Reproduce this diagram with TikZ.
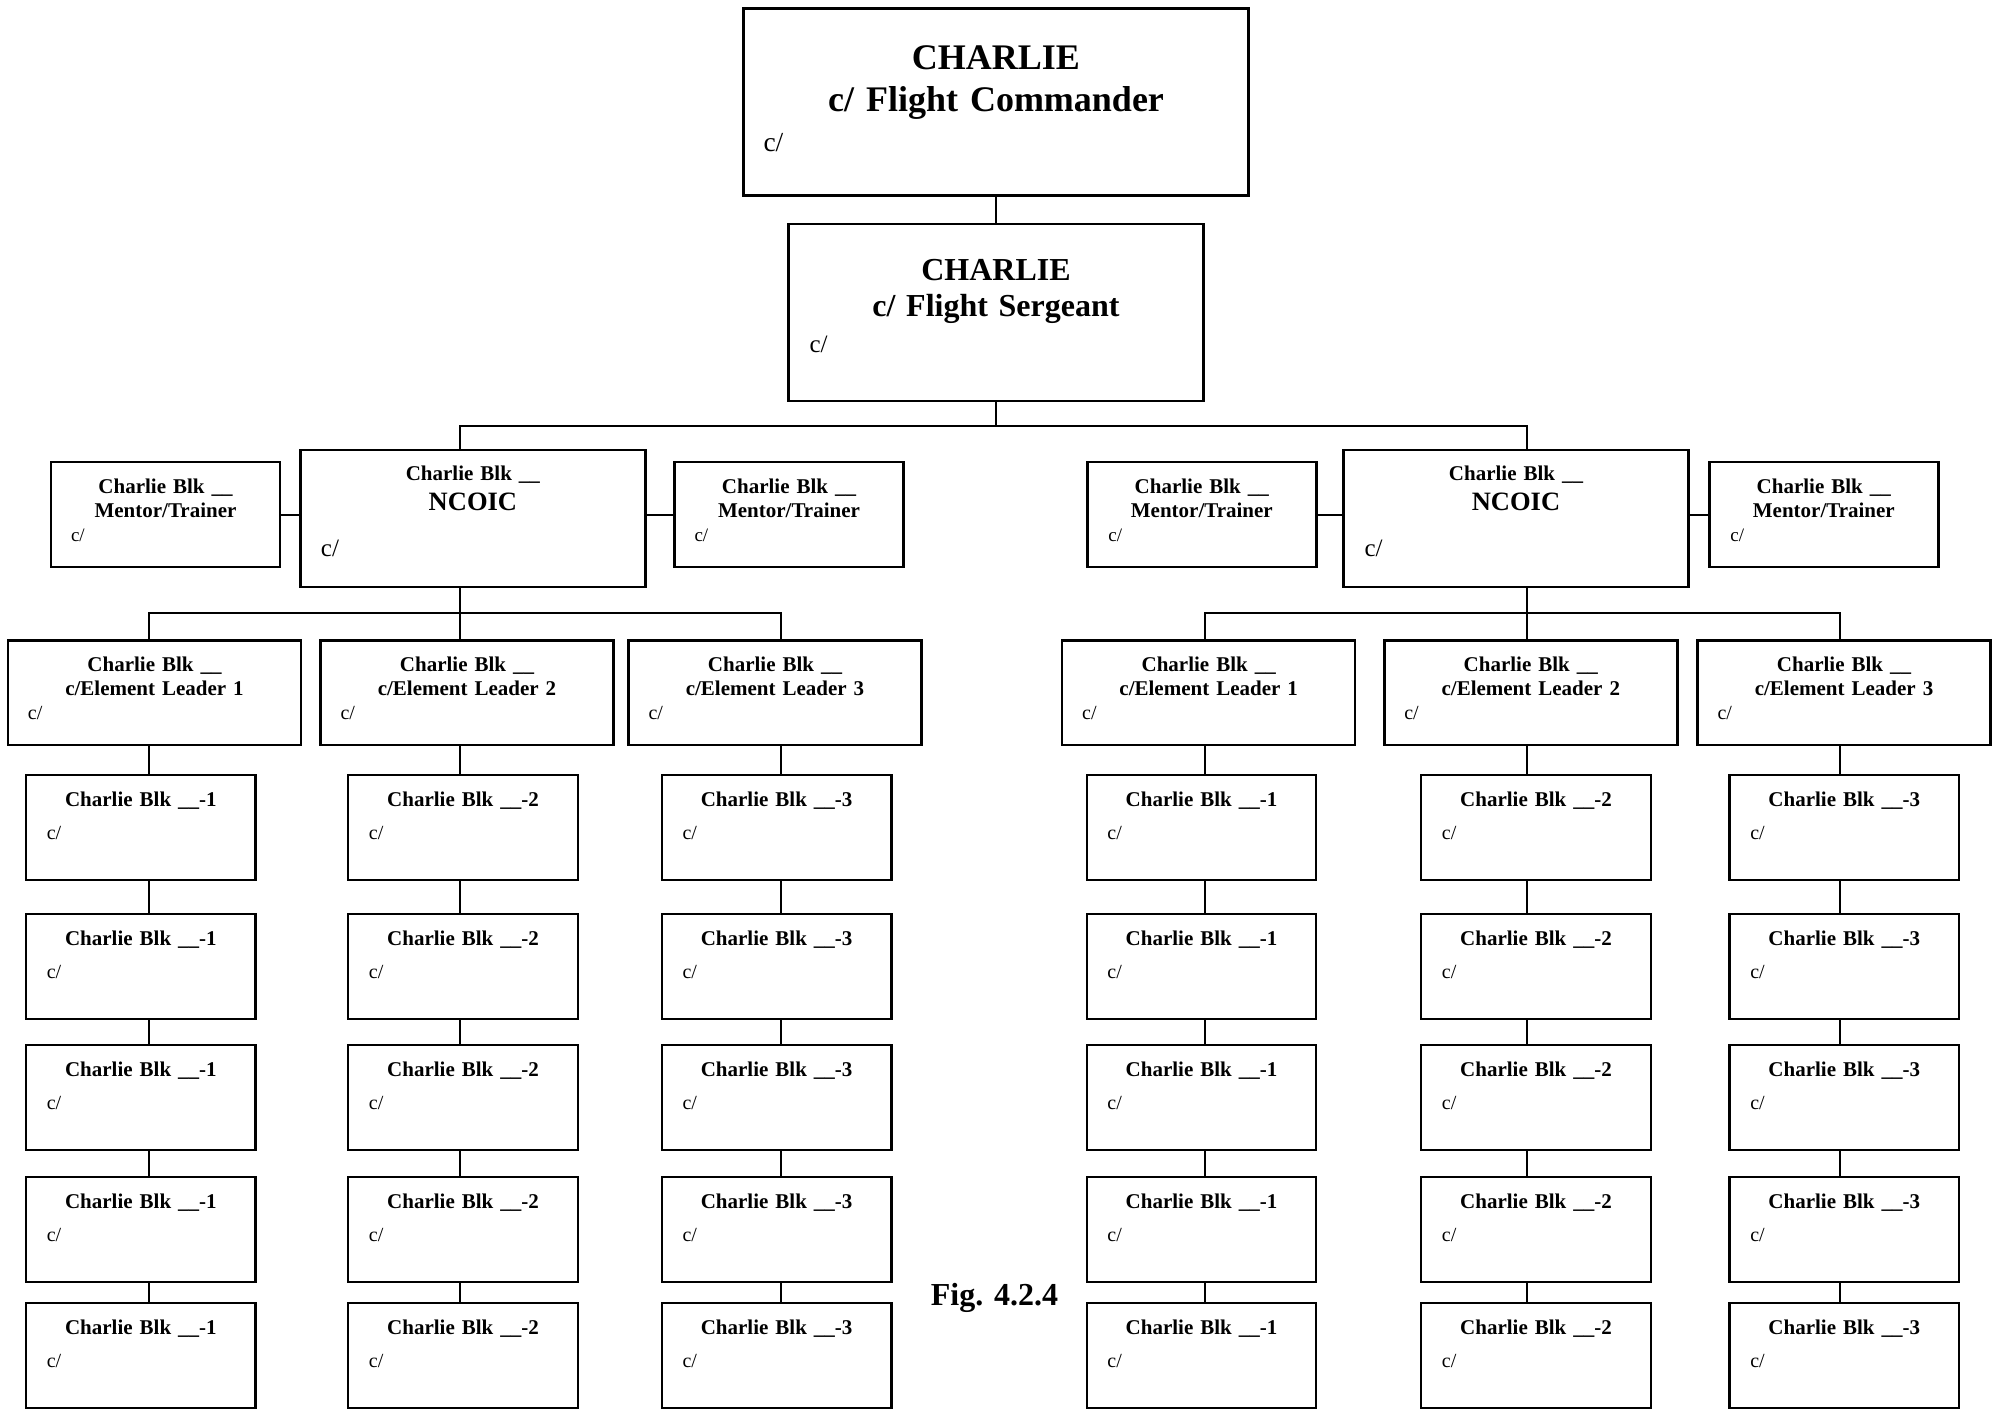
\documentclass[tikz,border=0pt]{standalone}
\usepackage{fontspec}
\setmainfont{Liberation Serif}

% centred bold heading lines, then the left "c/" slot
\newcommand{\hdr}[1]{{\centering\bfseries #1\par}}
\newcommand{\cslot}[3]{{\fontsize{#1}{#2}\selectfont\hspace*{#3}c/\par}}

\begin{document}
\begin{tikzpicture}[
    x=1pt, y=-1pt,
    box/.style={draw, rectangle, line width=2.4pt, inner sep=0pt, anchor=north, align=left},
    cmdbox/.style={box, text width=505pt, text height=61pt, text depth=126pt, font=\fontsize{36}{42}\selectfont},
    sgtbox/.style={box, text width=415pt, text height=56.3pt, text depth=121pt, font=\fontsize{32}{36}\selectfont},
    ncoicbox/.style={box, text width=345pt, text height=30.3pt, text depth=106.4pt, font=\fontsize{21}{30}\selectfont},
    mentorbox/.style={box, text width=229pt, text height=31.3pt, text depth=74pt, font=\fontsize{21}{24}\selectfont},
    leaderbox/.style={box, text width=293pt, text height=30.7pt, text depth=74pt, font=\fontsize{21}{24}\selectfont},
    memberbox/.style={box, text width=229.5pt, text height=31pt, text depth=73.5pt, font=\fontsize{21}{24}\selectfont},
    link/.style={line width=2pt},
    figtext/.style={anchor=base west, inner sep=0pt, font=\bfseries\fontsize{32}{36}\selectfont}
]
\useasboundingbox (0,0) rectangle (2002,1408);

% Flight command
\node[cmdbox] (cmd) at (996,7.3) {\hdr{CHARLIE\\c/ Flight Commander}\cslot{27.5}{40}{20pt}};
\node[sgtbox] (sgt) at (996,222.7) {\hdr{CHARLIE\\c/ Flight Sergeant}\cslot{25}{36.7}{21pt}};

% Block NCOICs with their mentors
\node[ncoicbox] (ncoL) at (472.9,449) {\hdr{Charlie Blk \_\_\\\fontsize{26.5}{30}\selectfont NCOIC}\cslot{25}{45.7}{20.5pt}};
\node[ncoicbox] (ncoR) at (1516,449) {\hdr{Charlie Blk \_\_\\\fontsize{26.5}{30}\selectfont NCOIC}\cslot{25}{45.7}{21pt}};
\node[mentorbox] (mL1) at (165.5,460.7) {\hdr{Charlie Blk \_\_\\Mentor/Trainer}\cslot{19}{24.3}{20pt}};
\node[mentorbox] (mL2) at (789,460.7) {\hdr{Charlie Blk \_\_\\Mentor/Trainer}\cslot{19}{24.3}{20pt}};
\node[mentorbox] (mR1) at (1201.8,460.7) {\hdr{Charlie Blk \_\_\\Mentor/Trainer}\cslot{19}{24.3}{21pt}};
\node[mentorbox] (mR2) at (1823.8,460.7) {\hdr{Charlie Blk \_\_\\Mentor/Trainer}\cslot{19}{24.3}{21pt}};

% Element leaders
\node[leaderbox] (eL1) at (154.5,639.3) {\hdr{Charlie Blk \_\_\\c/Element Leader 1}\cslot{20}{24}{20pt}};
\node[leaderbox] (eL2) at (467,639.3) {\hdr{Charlie Blk \_\_\\c/Element Leader 2}\cslot{20}{24}{20pt}};
\node[leaderbox] (eL3) at (775,639.3) {\hdr{Charlie Blk \_\_\\c/Element Leader 3}\cslot{20}{24}{20pt}};
\node[leaderbox] (eR1) at (1208.7,639.3) {\hdr{Charlie Blk \_\_\\c/Element Leader 1}\cslot{20}{24}{20pt}};
\node[leaderbox] (eR2) at (1530.8,639.3) {\hdr{Charlie Blk \_\_\\c/Element Leader 2}\cslot{20}{24}{20pt}};
\node[leaderbox] (eR3) at (1844,639.3) {\hdr{Charlie Blk \_\_\\c/Element Leader 3}\cslot{20}{24}{20pt}};

% Vertical lines of the element columns
\coordinate (xL1) at (149,0);
\coordinate (xL2) at (460,0);
\coordinate (xL3) at (780.5,0);
\coordinate (xR1) at (1205,0);
\coordinate (xR2) at (1527,0);
\coordinate (xR3) at (1839.5,0);
\coordinate (hub) at (996,425.7);
\coordinate (barL) at (460,612.5);
\coordinate (barR) at (1527,612.5);

% Element members, five per column
\foreach \col/\cx/\n in {L1/140.9/1, L2/463/2, L3/776.6/3, R1/1201.5/1, R2/1536/2, R3/1844.3/3} {
  \foreach \row/\top in {1/774, 2/913, 3/1044, 4/1176, 5/1302} {
    \node[memberbox] (m\col-\row) at (\cx,\top) {\hdr{Charlie Blk \_\_-\n}\cslot{20}{33}{20.7pt}};
  }
  \draw[link] (e\col.south -| x\col) -- (m\col-1.north -| x\col);
  \foreach \row [count=\nxt from 2] in {1,...,4}
    \draw[link] (m\col-\row.south -| x\col) -- (m\col-\nxt.north -| x\col);
}

\node[figtext] (fig) at (930.7,1305) {Fig. 4.2.4};

% Connections
\draw[link] (cmd) -- (sgt);
\draw[link] (sgt) -- (hub);
\draw[link] (ncoL.north -| xL2) |- (hub) -| (ncoR.north -| xR2);

\draw[link] (mL1.east) -- (mL1.east -| ncoL.west);
\draw[link] (mL2.west) -- (mL2.west -| ncoL.east);
\draw[link] (mR1.east) -- (mR1.east -| ncoR.west);
\draw[link] (mR2.west) -- (mR2.west -| ncoR.east);

\draw[link] (ncoL.south -| xL2) -- (eL2.north -| xL2);
\draw[link] (eL1.north -| xL1) |- (barL) -| (eL3.north -| xL3);
\draw[link] (ncoR.south -| xR2) -- (eR2.north -| xR2);
\draw[link] (eR1.north -| xR1) |- (barR) -| (eR3.north -| xR3);

\end{tikzpicture}
\end{document}
